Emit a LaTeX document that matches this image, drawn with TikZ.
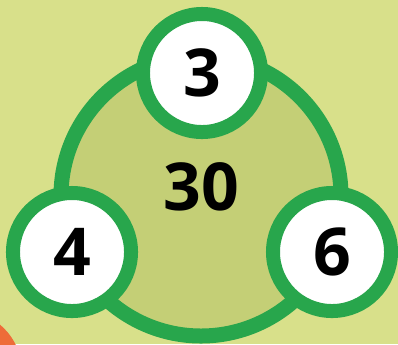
\documentclass[tikz,border=0pt]{standalone}
\usepackage{fontspec}
\setmainfont{Open Sans}
\definecolor{bgolive}{RGB}{216,224,138}
\definecolor{ringgreen}{RGB}{40,166,76}
\definecolor{innerolive}{RGB}{196,207,118}
\definecolor{cornerorange}{RGB}{238,108,56}
\usetikzlibrary{positioning}

\begin{document}
\begin{tikzpicture}[x=0.025cm,y=-0.025cm,
  numcircle/.style={circle,draw=ringgreen,fill=white,line width=0.35cm,
    minimum size=2.95cm,inner sep=0pt,font=\fontsize{47}{47}\selectfont\bfseries},
  numtext/.style={inner sep=0pt,font=\fontsize{47}{47}\selectfont\bfseries}
]
  % Background
  \useasboundingbox (0,0) rectangle (398,344);
  \fill[bgolive] (0,0) rectangle (398,344);
  \begin{scope}
    \clip (0,0) rectangle (398,344);
    \fill[cornerorange] (-40,372) circle[radius=62];
    % Big ring
    \draw[ringgreen,fill=innerolive,line width=0.375cm] (201,196) circle[radius=140];
  \end{scope}
  % Number circles
  \node[numcircle] (top) at (202,73) {3};
  \node[numcircle] (left) at (72,252) {4};
  \node[numcircle] (right) at (332,252) {6};
  % Centre number
  \node[numtext] (sum) at (201,187) {30};
\end{tikzpicture}
\end{document}
